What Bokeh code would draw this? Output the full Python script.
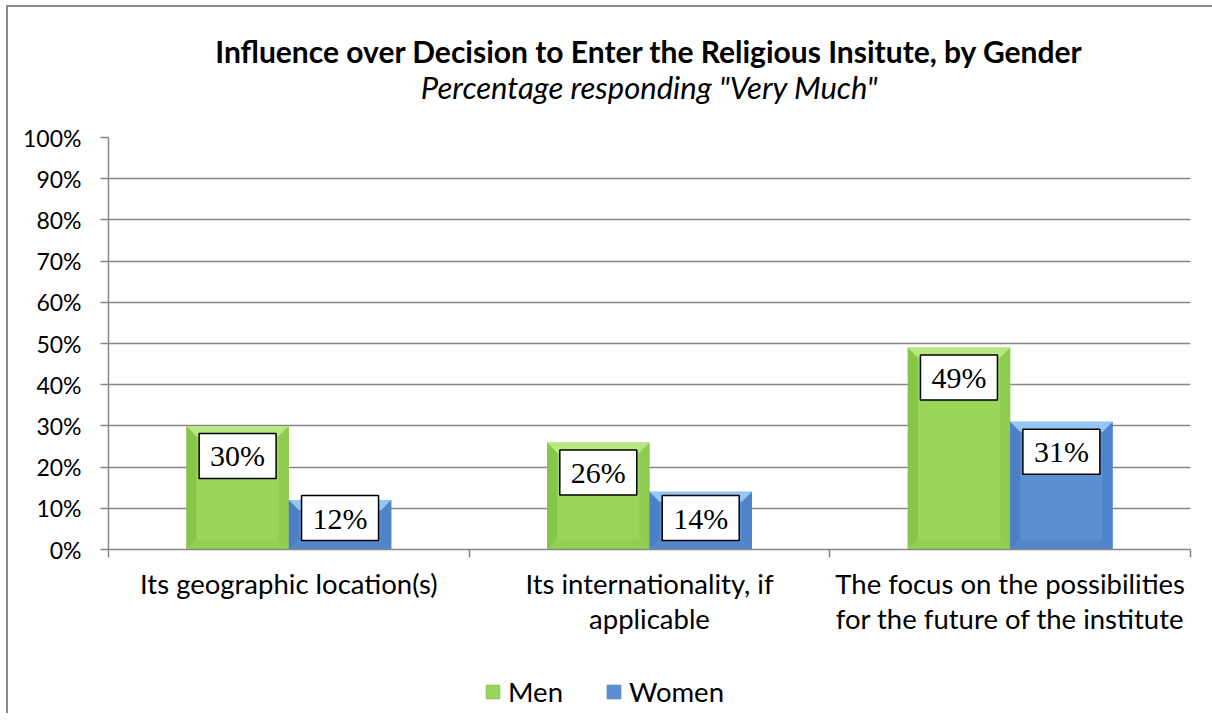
from bokeh.plotting import figure
from bokeh.layouts import column
from bokeh.models import (FixedTicker, NumeralTickFormatter, Legend, LegendItem,
                          ColumnDataSource, Range1d)
from bokeh.core.properties import value
from bokeh.embed import file_html
from bokeh.resources import INLINE

# ---- data ----
categories = ["Its geographic location(s)",
              "Its internationality, if\napplicable",
              "The focus on the possibilities\nfor the future of the institute"]
series_names = ["Men", "Women"]
men = [0.30, 0.26, 0.49]
women = [0.12, 0.14, 0.31]
y_ticks = [0.0, 0.1, 0.2, 0.3, 0.4, 0.5, 0.6, 0.7, 0.8, 0.9, 1.0]

title_text = "Influence over Decision to Enter the Religious Insitute, by Gender"
subtitle_text = 'Percentage responding "Very Much"'

# ---- styles ----
FONT = "Lato"
GRID = "#878787"
GREEN = dict(main="#9AD65B", top="#B8E882", left="#88C64A", right="#8DCC4F", bottom="#92D053")
BLUE = dict(main="#5B8FD4", top="#94C7F3", left="#4C7FC4", right="#4F84CA", bottom="#5387CC")

W = 1204
ML, MR = 100, 22
FH = 412
HEAD_H = 110
TOP_PAD, MB = 20, 105
LEG_H = 706 - HEAD_H - (TOP_PAD + FH + MB)
FW = W - ML - MR
n = len(categories)


def bare(height, ml=0, mr=0):
    f = figure(width=W, height=height, output_backend="svg", toolbar_location=None,
               x_range=Range1d(0, 1), y_range=Range1d(0, 1),
               x_axis_location=None, y_axis_location=None,
               min_border_left=ml, min_border_right=mr, min_border_top=0, min_border_bottom=0)
    f.grid.visible = False
    f.outline_line_color = None
    f.background_fill_color = "white"
    f.border_fill_color = "white"
    return f


# ---- header with title and subtitle ----
head = bare(HEAD_H, ML, MR)
head.text(x=[0.5], y=[1 - 43 / HEAD_H], text=[title_text], text_font=value(FONT),
          text_font_style="bold", text_font_size="30px", text_align="center",
          text_baseline="middle", text_color="black")
head.text(x=[0.5], y=[1 - 79 / HEAD_H], text=[subtitle_text], text_font=value(FONT),
          text_font_style="italic", text_font_size="31px", text_align="center",
          text_baseline="middle", text_color="black")

# ---- main chart ----
p = figure(width=W, height=TOP_PAD + FH + MB, output_backend="svg", toolbar_location=None,
           x_range=Range1d(0, n), y_range=Range1d(0, 1),
           min_border_left=ML, min_border_right=MR, min_border_top=TOP_PAD,
           min_border_bottom=MB, title=None)
p.outline_line_color = None
p.background_fill_color = "white"
p.border_fill_color = "white"

p.yaxis.ticker = FixedTicker(ticks=y_ticks)
p.yaxis.formatter = NumeralTickFormatter(format="0%")
p.yaxis.major_label_text_font = FONT
p.yaxis.major_label_text_font_size = "23px"
p.yaxis.major_label_text_color = "black"
p.yaxis.major_tick_out = 8
p.yaxis.major_tick_in = 0
p.yaxis.minor_tick_line_color = None
p.yaxis.axis_line_color = GRID
p.yaxis.major_tick_line_color = GRID
p.yaxis.axis_line_width = 1.5
p.yaxis.major_tick_line_width = 1.5
p.yaxis.major_label_standoff = 19

p.xaxis.ticker = FixedTicker(ticks=[i + 0.5 for i in range(n)], minor_ticks=list(range(n + 1)))
p.xaxis.major_label_overrides = {i + 0.5: c for i, c in enumerate(categories)}
p.xaxis.major_tick_line_color = None
p.xaxis.minor_tick_out = 8
p.xaxis.minor_tick_in = 0
p.xaxis.minor_tick_line_color = GRID
p.xaxis.minor_tick_line_width = 1.5
p.xaxis.axis_line_color = GRID
p.xaxis.axis_line_width = 1.5
p.xaxis.major_label_text_font = FONT
p.xaxis.major_label_text_font_size = "27.5px"
p.xaxis.major_label_text_color = "black"
p.xaxis.major_label_text_line_height = 1.09
p.xaxis.major_label_standoff = 9

p.xgrid.grid_line_color = None
p.ygrid.ticker = FixedTicker(ticks=y_ticks)
p.ygrid.grid_line_color = GRID
p.ygrid.grid_line_width = 1.5

bw = 0.284
bx = 10 / (FW / n)
by = 10 / FH
for vals, col, off in [(men, GREEN, -bw / 2), (women, BLUE, bw / 2)]:
    xs = [i + 0.5 + off for i in range(n)]
    p.vbar(x=xs, top=vals, bottom=0, width=bw, fill_color=col["main"], line_color=None)
    tops_x, tops_y, lefts_x, lefts_y, rights_x, rights_y, bots_x, bots_y = ([] for _ in range(8))
    for x, v in zip(xs, vals):
        L, R, T = x - bw / 2, x + bw / 2, v
        tops_x.append([L, R, R - bx, L + bx]); tops_y.append([T, T, T - by, T - by])
        lefts_x.append([L, L, L + bx, L + bx]); lefts_y.append([0, T, T - by, by])
        rights_x.append([R, R, R - bx, R - bx]); rights_y.append([0, T, T - by, by])
        bots_x.append([L, R, R - bx, L + bx]); bots_y.append([0, 0, by, by])
    p.patches(lefts_x, lefts_y, fill_color=col["left"], line_color=None)
    p.patches(rights_x, rights_y, fill_color=col["right"], line_color=None)
    p.patches(bots_x, bots_y, fill_color=col["bottom"], line_color=None)
    p.patches(tops_x, tops_y, fill_color=col["top"], line_color=None)

    ly = [max(v - 30 / FH, 31.5 / FH) for v in vals]
    src = ColumnDataSource(dict(x=xs, y=ly, t=["%d%%" % round(v * 100) for v in vals]))
    p.text(x="x", y="y", text="t", source=src, text_font=value("Liberation Serif"),
           text_font_size="30px", text_align="center", text_baseline="middle",
           text_color="black", background_fill_color="white",
           border_line_color="black", border_line_width=1.5, padding=(11, 11, 6, 6))

# ---- legend strip ----
lf = bare(LEG_H)
lr = [lf.vbar(x=[0.5], top=[0.0], bottom=[0.0], width=0.001, fill_color=c["main"],
              line_color=c["left"], line_width=1) for c in (GREEN, BLUE)]
legend = Legend(items=[LegendItem(label=series_names[i], renderers=[lr[i]]) for i in range(2)],
                orientation="horizontal", location=(376, 5),
                label_text_font=FONT, label_text_font_size="27.5px", label_text_color="black",
                label_height=24, glyph_width=17, glyph_height=17, label_standoff=7, spacing=42,
                padding=0, margin=0, border_line_color=None, background_fill_alpha=0)
lf.add_layout(legend, "center")

layout = column(head, p, lf, spacing=0)
layout.margin = (5, 0, 0, 6)
layout.styles = {"border-left": "2px solid #8a8a8a", "border-top": "2px solid #8a8a8a",
                 "background-color": "white"}

open("out.html", "w").write(file_html(layout, INLINE))
